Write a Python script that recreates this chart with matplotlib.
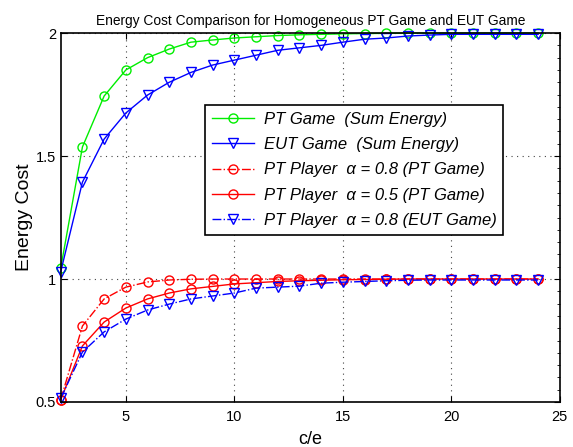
import numpy as np
import matplotlib
matplotlib.use('Agg')
import matplotlib.pyplot as plt
from matplotlib.ticker import MultipleLocator

plt.rcParams['font.family'] = ['Liberation Sans', 'DejaVu Sans']

# custo de energia em funcao de c/e
ce = list(range(2, 25))

pt_soma = [1.045, 1.537, 1.744, 1.85, 1.90, 1.935, 1.963, 1.972, 1.98, 1.985, 1.99, 1.993,
           1.995, 1.997, 1.998, 1.999, 2.0, 2.0, 2.0, 2.0, 2.0, 2.0, 2.0]
eut_soma = [1.03, 1.394, 1.569, 1.675, 1.748, 1.80, 1.84, 1.87, 1.89, 1.91, 1.93, 1.94,
            1.95, 1.963, 1.975, 1.98, 1.988, 1.992, 1.995, 1.995, 1.995, 1.995, 1.995]
pt_a08 = [0.51, 0.809, 0.919, 0.967, 0.988, 0.996, 0.999, 1.0, 1.0, 1.0, 1.0, 1.0,
          1.0, 1.0, 1.0, 1.0, 1.0, 1.0, 1.0, 1.0, 1.0, 1.0, 1.0]
pt_a05 = [0.51, 0.728, 0.825, 0.882, 0.919, 0.943, 0.96, 0.97, 0.98, 0.985, 0.99, 0.993,
          0.995, 0.997, 0.998, 0.999, 1.0, 1.0, 1.0, 1.0, 1.0, 1.0, 1.0]
eut_a08 = [0.515, 0.703, 0.785, 0.837, 0.874, 0.898, 0.919, 0.931, 0.943, 0.963, 0.967, 0.971,
           0.983, 0.987, 0.99, 0.993, 0.995, 0.996, 0.996, 0.996, 0.996, 0.996, 0.996]

rotulos = ['PT Game  (Sum Energy)',
           'EUT Game  (Sum Energy)',
           'PT Player  \u03b1 = 0.8 (PT Game)',
           'PT Player  \u03b1 = 0.5 (PT Game)',
           'PT Player  \u03b1 = 0.8 (EUT Game)']

fig = plt.figure(figsize=(5.73, 4.47), dpi=100)
ax = fig.add_axes([0.106, 0.1007, 0.871, 0.8253])

ms = 6.5
ax.plot(ce, pt_soma, '-o', color='#00ee00', mfc='none', ms=ms, lw=1, label=rotulos[0], clip_on=False)
ax.plot(ce, eut_soma, '-v', color='#0000ff', mfc='none', ms=ms, lw=1, label=rotulos[1], clip_on=False)
ax.plot(ce, pt_a08, '-.o', color='#ff0000', mfc='none', ms=ms, lw=1, label=rotulos[2], clip_on=False)
ax.plot(ce, pt_a05, '-o', color='#ff0000', mfc='none', ms=ms, lw=1, label=rotulos[3], clip_on=False)
ax.plot(ce, eut_a08, '-.v', color='#0000ff', mfc='none', ms=ms, lw=1, label=rotulos[4], clip_on=False)

ax.set_xlim(2, 25)
ax.set_ylim(0.5, 2)
ax.set_xticks([5, 10, 15, 20, 25])
ax.set_yticks([0.5, 1, 1.5, 2])
ax.set_yticklabels(['0.5', '1', '1.5', '2'])
ax.yaxis.set_minor_locator(MultipleLocator(0.05))
ax.tick_params(which='both', direction='in', top=True, right=True, labelsize=10.5)
ax.tick_params(axis='x', pad=6)
ax.tick_params(which='major', length=4)
ax.tick_params(which='minor', length=2, left=False)
ax.grid(True, which='major', linestyle=(0, (1, 4)), color='#444444', lw=0.8)
for s in ax.spines.values():
    s.set_linewidth(1.2)

ax.set_title('Energy Cost Comparison for Homogeneous PT Game and EUT Game', fontsize=9.9, pad=6)
ax.set_xlabel('c/e', fontsize=13, labelpad=5)
ax.set_ylabel('Energy Cost', fontsize=14, labelpad=2)

leg = ax.legend(loc='upper left', bbox_to_anchor=(0.29, 0.805), fancybox=False, framealpha=1,
                edgecolor='black', prop={'style': 'italic', 'size': 12},
                handlelength=2.5, borderpad=0.4, labelspacing=0.62, handletextpad=0.6,
                borderaxespad=0)
leg.get_frame().set_linewidth(1.2)

fig.savefig('out.png', dpi=100)
